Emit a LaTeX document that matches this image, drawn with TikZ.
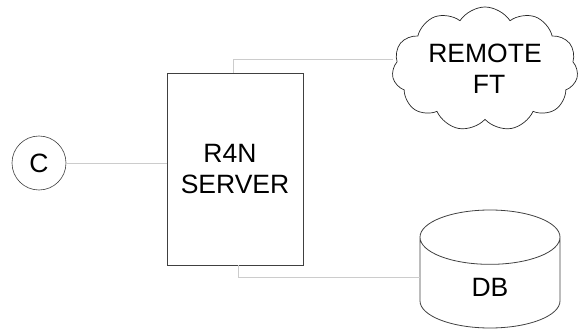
\documentclass[tikz,border=0pt]{standalone}
\usepackage{fontspec}
\setmainfont{Liberation Sans}
\usetikzlibrary{shapes.geometric,shapes.symbols}
\begin{document}
\begin{tikzpicture}[
  x=1pt, y=-1pt,
  box/.style={rectangle, draw=black!75, line width=0.8pt, minimum width=136pt, minimum height=192pt, align=center},
  client/.style={circle, draw=black!75, line width=0.6pt, minimum size=54pt, inner sep=0pt},
  remote/.style={cloud, draw=black!85, line width=0.7pt, cloud puffs=11, cloud puff arc=115, aspect=1.55, minimum width=186pt, minimum height=118pt, inner sep=0pt, align=center},
  store/.style={cylinder, shape border rotate=90, draw=black!75, line width=0.8pt, aspect=1.25, minimum width=140pt, minimum height=118pt},
  link/.style={draw=black!20, line width=0.9pt},
  font=\fontsize{26.5}{31}\selectfont
]
\useasboundingbox (0,0) rectangle (579,329);

\node[client] (c) at (39,163) {C};
\node[box] (srv) at (235,169) {\hspace*{-10pt}R4N\\ SERVER};
\node[remote] (ft) at (485,69) {REMOTE\\ \hspace*{8pt}FT};
\node[store, anchor=shape center] (db) at (490,269) {DB};

\draw[link] (c) -- (c -| srv.west);
\draw[link] ([xshift=-2pt]srv.north) |- ([yshift=10pt]ft.west);
\draw[link] ([xshift=3pt]srv.south) |- (db.west |- 0,277);
\end{tikzpicture}
\end{document}
